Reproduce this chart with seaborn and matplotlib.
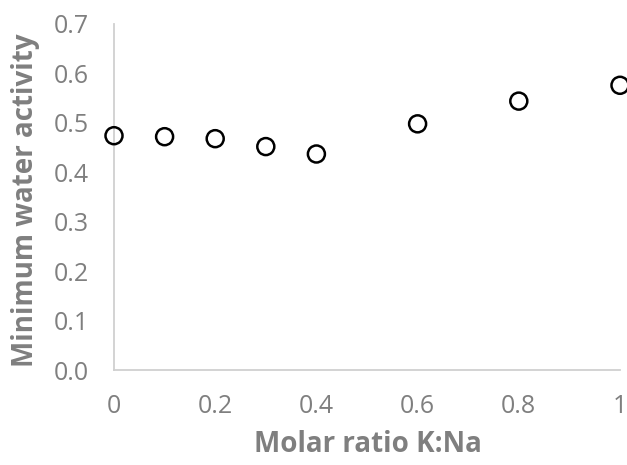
import matplotlib
matplotlib.use("Agg")
import matplotlib.pyplot as plt
import seaborn as sns
import pandas as pd

ratio = [0.0, 0.1, 0.2, 0.3, 0.4, 0.6, 0.8, 1.0]
min_aw = [0.474, 0.472, 0.468, 0.452, 0.437, 0.498, 0.544, 0.576]
xticks = [0, 0.2, 0.4, 0.6, 0.8, 1]
xticklabels = ["0", "0.2", "0.4", "0.6", "0.8", "1"]
yticks = [0.0, 0.1, 0.2, 0.3, 0.4, 0.5, 0.6, 0.7]
yticklabels = ["0.0", "0.1", "0.2", "0.3", "0.4", "0.5", "0.6", "0.7"]

sns.set_theme(style="white")
plt.rcParams["font.family"] = ["Open Sans", "DejaVu Sans"]

df = pd.DataFrame({"ratio": ratio, "aw": min_aw})
fig = plt.figure(figsize=(6.27, 4.65), dpi=100)
ax = fig.add_axes([114/627, 95/465, 506/627, 346/465])
sns.scatterplot(data=df, x="ratio", y="aw", ax=ax, s=150, marker="o",
                facecolor="none", edgecolor="black", linewidth=1.8, clip_on=False, zorder=3)

ax.set_xlim(0, 1)
ax.set_ylim(0, 0.7)
ax.set_xticks(xticks)
ax.set_xticklabels(xticklabels)
ax.set_yticks(yticks)
ax.set_yticklabels(yticklabels)
grey = "#7f7f7f"
ax.tick_params(axis="both", colors=grey, labelsize=18, length=0)
ax.tick_params(axis="x", pad=17)
ax.tick_params(axis="y", pad=18)
for s in ["top", "right"]:
    ax.spines[s].set_visible(False)
for s in ["left", "bottom"]:
    ax.spines[s].set_color("#d0d0d0")
    ax.spines[s].set_linewidth(1.3)
ax.set_xlabel("Molar ratio K:Na", fontsize=20, fontweight="bold", color=grey)
ax.set_ylabel("Minimum water activity", fontsize=20, fontweight="bold", color=grey)
ax.xaxis.set_label_coords(0.501, -0.172)
ax.yaxis.set_label_coords(-0.146, 0.49)
fig.savefig("out.png", dpi=100)
